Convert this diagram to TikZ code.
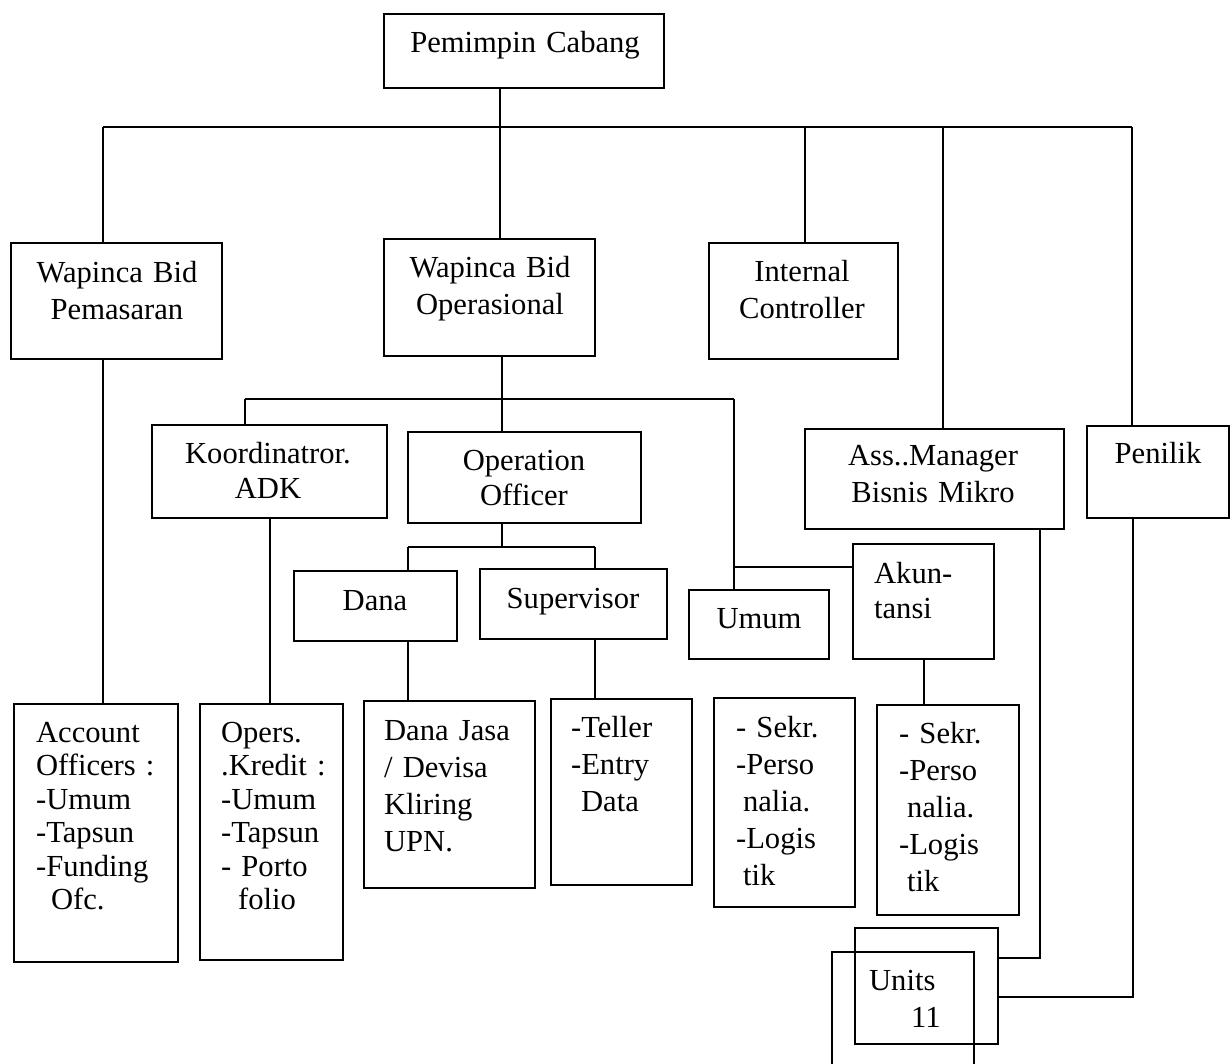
\documentclass[tikz,border=0pt]{standalone}
\usepackage{fontspec}
\setmainfont{Liberation Serif}

\begin{document}
\begin{tikzpicture}[x=0.5pt,y=-0.5pt,line width=1.1pt,
    box/.style={draw,inner sep=0pt,anchor=north west},
    txt/.style={inner sep=0pt,font=\fontsize{15.3}{18.5}\selectfont},
    mid/.style={txt,anchor=base,align=center,text width=#1},
    mid/.default=120pt,
    lft/.style={txt,anchor=base west,align=left,text width=#1},
    lft/.default=80pt,
    tight/.style={font=\fontsize{15.3}{16.75}\selectfont},
    medium/.style={font=\fontsize{15.3}{17.5}\selectfont}]
    \useasboundingbox (0,0) rectangle (1232,1064);
    %% boxes
    \node[box,minimum width=140pt,minimum height=37pt] (pc) at (383,13) {};
    \node[box,minimum width=105.5pt,minimum height=58pt] (wp) at (10,242) {};
    \node[box,minimum width=105.5pt,minimum height=58.5pt] (wo) at (383,238) {};
    \node[box,minimum width=94.5pt,minimum height=58pt] (ic) at (708,242) {};
    \node[box,minimum width=129.5pt,minimum height=50pt] (am) at (804,428) {};
    \node[box,minimum width=71pt,minimum height=46pt] (pn) at (1086,425) {};
    \node[box,minimum width=117.5pt,minimum height=46.5pt] (ka) at (151,424) {};
    \node[box,minimum width=116.5pt,minimum height=45.5pt] (oo) at (407,431) {};
    \node[box,minimum width=81.5pt,minimum height=35pt] (dn) at (293,570) {};
    \node[box,minimum width=93.5pt,minimum height=35pt] (sv) at (479,568) {};
    \node[box,minimum width=70pt,minimum height=34.5pt] (um) at (688,589) {};
    \node[box,minimum width=70.5pt,minimum height=57.5pt] (ak) at (852,543) {};
    \node[box,minimum width=82pt,minimum height=129pt] (ao) at (13,703) {};
    \node[box,minimum width=71.5pt,minimum height=128pt] (ok) at (199,703) {};
    \node[box,minimum width=85.5pt,minimum height=93.5pt] (dj) at (363,700) {};
    \node[box,minimum width=70.5pt,minimum height=93pt] (tl) at (550,698) {};
    \node[box,minimum width=70.5pt,minimum height=104.5pt] (s1) at (713,697) {};
    \node[box,minimum width=71pt,minimum height=105pt] (s2) at (876,704) {};
    \node[box,minimum width=71.5pt,minimum height=58pt] (ub) at (854,927) {};
    \node[box,minimum width=71pt,minimum height=62pt] (uf) at (831,951) {};
    %% texts
    \node[mid] (pc-t) at (525,53) {Pemimpin Cabang};
    \node[mid] (wp-t) at (117,283) {Wapinca Bid\\Pemasaran};
    \node[mid] (wo-t) at (490,278) {Wapinca Bid\\Operasional};
    \node[mid] (ic-t) at (802,282) {Internal\\Controller};
    \node[mid] (am-t) at (933,465) {Ass..Manager\\Bisnis Mikro};
    \node[mid] (pn-t) at (1158,463) {Penilik};
    \node[mid,medium] (ka-t) at (268,463) {Koordinatror.\\ADK};
    \node[mid,medium] (oo-t) at (524,470) {Operation\\Officer};
    \node[mid] (dn-t) at (375,610) {Dana};
    \node[mid] (sv-t) at (573,608) {Supervisor};
    \node[mid] (um-t) at (759,628) {Umum};
    \node[lft,medium] (ak-t) at (873,583) {Akun-\\tansi};
    \node[lft,tight] (ao-t) at (35,742) {Account\\Officers :\\-Umum\\-Tapsun\\-Funding\\\hspace*{7.5pt}Ofc.};
    \node[lft,tight] (ok-t) at (220,742) {Opers.\\.Kredit :\\-Umum\\-Tapsun\\- Porto\\\hspace*{8.5pt}folio};
    \node[lft] (dj-t) at (383,740) {Dana Jasa\\/ Devisa\\Kliring\\UPN.};
    \node[lft] (tl-t) at (570,737) {-Teller\\-Entry\\\hspace*{5pt}Data};
    \node[lft] (s1-t) at (735,737) {- Sekr.\\-Perso\\\hspace*{3.5pt}nalia.\\-Logis\\\hspace*{3.5pt}tik};
    \node[lft] (s2-t) at (898,743) {- Sekr.\\-Perso\\\hspace*{4pt}nalia.\\-Logis\\\hspace*{4pt}tik};
    \node[lft] (uf-t) at (868,990) {Units\\\hspace*{21pt}11};
    %% top level
    \coordinate (t1) at (103,127);
    \coordinate (t2) at (500,127);
    \coordinate (t3) at (805,127);
    \coordinate (t4) at (943,127);
    \coordinate (t5) at (1132,127);
    \draw (t1) -- (t5);
    \draw (pc.south -| t2) -- (wo.north -| t2);
    \draw (t1) -- (wp.north -| t1);
    \draw (t3) -- (ic.north -| t3);
    \draw (t4) -- (am.north -| t4);
    \draw (t5) -- (pn.north -| t5);
    %% operasional
    \coordinate (o1) at (245,399);
    \coordinate (o2) at (502,399);
    \coordinate (o3) at (734,399);
    \coordinate (o4) at (734,567);
    \draw (o1) -- (o3);
    \draw (wo.south -| o2) -- (oo.north -| o2);
    \draw (o1) -- (ka.north -| o1);
    \draw (o3) -- (um.north -| o3);
    \draw (o4) -- (ak.west |- o4);
    %% operation officer
    \coordinate (d1) at (408,547);
    \coordinate (d2) at (502,547);
    \coordinate (d3) at (595,547);
    \draw (d1) -- (d3);
    \draw (oo.south -| d2) -- (d2);
    \draw (d1) -- (dn.north -| d1);
    \draw (d3) -- (sv.north -| d3);
    %% down to the lower boxes
    \draw (wp.south -| t1) -- (ao.north -| t1);
    \draw (ka.south) -- (ka.south |- ok.north);
    \draw (dn.south -| d1) -- (dj.north -| d1);
    \draw (sv.south -| d3) -- (tl.north -| d3);
    \draw (ak.south) -- (ak.south |- s2.north);
    %% units
    \coordinate (u1) at (1040,958);
    \coordinate (u2) at (1133,997);
    \draw (am.south -| u1) -- (u1) -- (ub.east |- u1);
    \draw (pn.south -| u2) -- (u2) -- (ub.east |- u2);
\end{tikzpicture}
\end{document}
